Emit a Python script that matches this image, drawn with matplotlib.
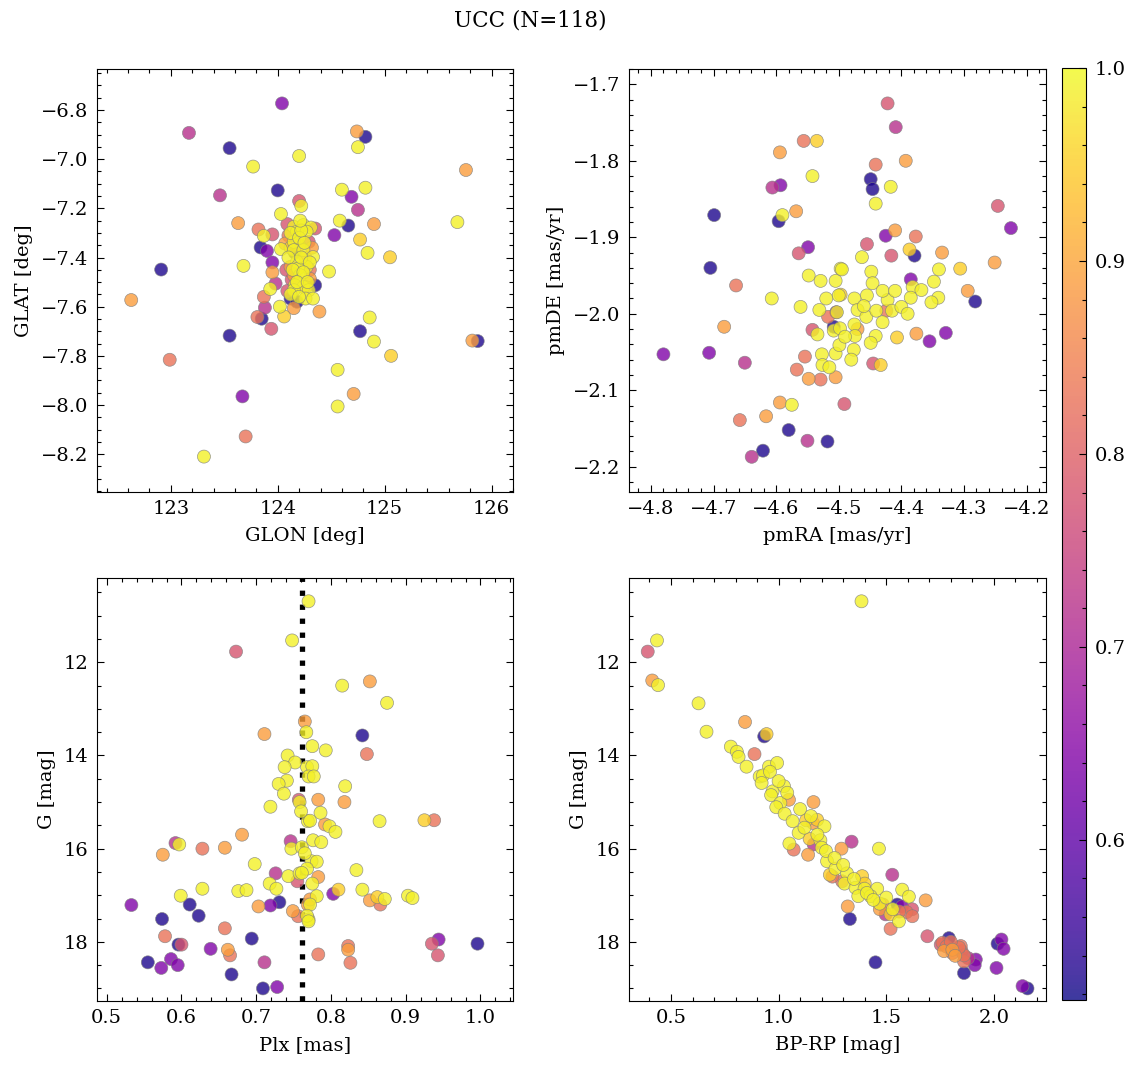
import matplotlib
matplotlib.use("Agg")
import matplotlib.pyplot as plt
from matplotlib.colors import Normalize
from matplotlib.ticker import MultipleLocator
import numpy as np

plt.rcParams["font.family"] = ["DejaVu Serif"]
plt.rcParams["font.size"] = 14

# membership probability levels
B, P, M, K, S, O, YO, Y = 0.53, 0.64, 0.72, 0.78, 0.83, 0.89, 0.95, 0.99

title = "UCC (N=118)"

# GLON, GLAT, prob
glon_glat = [
    (124.04, -6.773, P), (123.17, -6.893, M), (123.55, -6.955, B), (124.20, -6.987, Y),
    (123.77, -7.03, Y), (124.00, -7.127, B), (123.46, -7.147, M), (124.20, -7.17, K),
    (124.22, -7.19, Y), (124.03, -7.223, Y), (123.63, -7.26, O), (123.82, -7.286, S),
    (123.95, -7.306, K), (123.87, -7.312, Y), (123.84, -7.359, B), (123.90, -7.373, P),
    (124.03, -7.366, Y), (122.91, -7.449, B), (123.68, -7.434, Y), (123.95, -7.42, P),
    (123.95, -7.46, O), (123.98, -7.506, M), (123.93, -7.528, Y), (122.63, -7.573, O),
    (123.87, -7.56, S), (124.12, -7.567, B), (124.15, -7.606, O), (124.02, -7.60, Y),
    (124.06, -7.64, YO), (123.88, -7.604, M), (123.81, -7.642, S), (123.85, -7.649, B),
    (123.94, -7.69, K), (123.55, -7.718, B), (122.99, -7.816, S), (123.67, -7.965, P),
    (123.70, -8.128, S), (123.31, -8.21, Y), (124.74, -6.887, O), (124.82, -6.909, B),
    (124.75, -6.951, Y), (125.76, -7.044, O), (124.60, -7.124, Y), (124.82, -7.116, Y),
    (124.69, -7.153, P), (124.75, -7.206, M), (124.58, -7.25, Y), (124.66, -7.27, B),
    (124.90, -7.264, O), (125.68, -7.256, Y), (124.53, -7.309, P), (124.77, -7.327, YO),
    (124.84, -7.381, Y), (125.05, -7.399, YO), (124.48, -7.457, Y), (124.39, -7.62, O),
    (124.86, -7.644, Y), (124.77, -7.70, B), (124.90, -7.742, Y), (125.82, -7.738, O),
    (125.87, -7.74, B), (125.06, -7.80, YO), (124.56, -7.857, Y), (124.71, -7.955, O),
    (124.56, -8.006, Y),
    (124.09, -7.264, K), (124.15, -7.275, Y), (124.24, -7.268, Y), (124.31, -7.278, Y),
    (124.35, -7.282, K), (124.18, -7.295, Y), (124.27, -7.295, Y), (124.07, -7.343, O),
    (124.15, -7.336, Y), (124.15, -7.37, Y), (124.24, -7.37, Y), (124.29, -7.336, K),
    (124.33, -7.398, Y), (124.18, -7.418, Y), (124.27, -7.438, Y), (124.19, -7.445, Y),
    (124.12, -7.438, O), (124.15, -7.472, O), (124.21, -7.472, Y), (124.30, -7.486, O),
    (124.35, -7.513, B), (124.16, -7.513, Y), (124.24, -7.52, Y), (124.29, -7.533, Y),
    (124.09, -7.536, K), (124.15, -7.533, Y), (124.26, -7.567, Y), (124.33, -7.567, Y),
    (124.12, -7.30, Y), (124.20, -7.32, Y), (124.25, -7.34, Y), (124.10, -7.40, Y),
    (124.22, -7.40, Y), (124.30, -7.42, Y), (124.14, -7.45, Y), (124.24, -7.46, Y),
    (124.18, -7.50, Y), (124.28, -7.50, Y), (124.12, -7.55, Y), (124.20, -7.56, Y),
    (124.22, -7.29, Y), (124.10, -7.31, S), (124.26, -7.40, O), (124.13, -7.49, K),
    (124.30, -7.45, S), (124.20, -7.35, O), (124.08, -7.45, K), (124.32, -7.36, O),
    (124.18, -7.58, B), (124.16, -7.38, B), (124.12, -7.36, YO), (124.26, -7.52, YO),
    (124.21, -7.25, Y),
]

# pmRA, pmDE, prob
pm = [
    (-4.556, -1.774, S), (-4.535, -1.774, YO), (-4.594, -1.789, O), (-4.542, -1.820, Y),
    (-4.606, -1.835, M), (-4.593, -1.832, P), (-4.699, -1.871, B), (-4.596, -1.879, B),
    (-4.590, -1.871, Y), (-4.568, -1.866, O), (-4.549, -1.913, P), (-4.564, -1.921, K),
    (-4.705, -1.940, B), (-4.548, -1.950, Y), (-4.529, -1.957, Y), (-4.505, -1.957, Y),
    (-4.497, -1.941, Y), (-4.664, -1.963, S), (-4.607, -1.980, Y), (-4.561, -1.991, Y),
    (-4.531, -1.995, Y), (-4.517, -2.004, S), (-4.503, -1.998, Y), (-4.500, -1.976, Y),
    (-4.683, -2.017, O), (-4.542, -2.021, K), (-4.534, -2.027, Y), (-4.508, -2.017, B),
    (-4.508, -2.022, Y), (-4.780, -2.053, P), (-4.707, -2.051, P), (-4.650, -2.064, M),
    (-4.554, -2.056, S), (-4.527, -2.053, Y), (-4.505, -2.052, Y), (-4.567, -2.073, S),
    (-4.526, -2.067, Y), (-4.515, -2.070, Y), (-4.548, -2.085, O), (-4.529, -2.086, S),
    (-4.505, -2.083, O), (-4.594, -2.116, O), (-4.575, -2.119, Y), (-4.658, -2.139, S),
    (-4.616, -2.134, O), (-4.580, -2.152, B), (-4.550, -2.166, M), (-4.518, -2.167, B),
    (-4.639, -2.187, M), (-4.621, -2.179, B), (-4.491, -2.118, K), (-4.422, -1.725, K),
    (-4.409, -1.756, M), (-4.393, -1.800, O), (-4.441, -1.805, S), (-4.449, -1.824, B),
    (-4.446, -1.837, B), (-4.417, -1.834, Y), (-4.441, -1.856, Y), (-4.246, -1.859, K),
    (-4.225, -1.888, P), (-4.425, -1.898, P), (-4.410, -1.891, O), (-4.377, -1.899, S),
    (-4.455, -1.909, K), (-4.416, -1.924, K), (-4.387, -1.916, YO), (-4.379, -1.924, B),
    (-4.463, -1.926, Y), (-4.335, -1.920, O), (-4.251, -1.933, O), (-4.306, -1.941, YO),
    (-4.340, -1.942, Y), (-4.495, -1.942, Y), (-4.448, -1.945, Y), (-4.446, -1.960, Y),
    (-4.385, -1.955, P), (-4.348, -1.958, Y), (-4.382, -1.965, Y), (-4.368, -1.969, Y),
    (-4.294, -1.970, O), (-4.282, -1.984, B), (-4.497, -1.975, YO), (-4.455, -1.976, Y),
    (-4.475, -1.980, Y), (-4.385, -1.979, Y), (-4.341, -1.979, Y), (-4.352, -1.985, Y),
    (-4.422, -1.982, Y), (-4.470, -1.995, Y), (-4.456, -2.004, Y), (-4.440, -1.996, Y),
    (-4.424, -1.996, S), (-4.415, -1.996, Y), (-4.400, -1.991, Y), (-4.504, -1.998, P),
    (-4.430, -2.011, Y), (-4.475, -2.014, Y), (-4.498, -2.019, Y), (-4.474, -2.029, Y),
    (-4.441, -2.029, Y), (-4.449, -2.038, Y), (-4.407, -2.031, YO), (-4.376, -2.026, O),
    (-4.355, -2.036, P), (-4.329, -2.025, P), (-4.499, -2.041, Y), (-4.476, -2.047, Y),
    (-4.480, -2.060, Y), (-4.445, -2.065, K), (-4.433, -2.067, YO),
    (-4.46, -1.99, Y), (-4.43, -1.97, Y), (-4.49, -2.03, Y), (-4.41, -1.97, Y),
    (-4.52, -1.98, Y), (-4.47, -2.02, O), (-4.39, -2.00, Y),
]

# Plx, G, prob
plx_g = [
    (0.770, 10.69, Y), (0.748, 11.53, Y), (0.673, 11.77, K), (0.765, 13.27, O),
    (0.767, 13.50, Y), (0.711, 13.54, O), (0.742, 14.00, Y), (0.752, 14.15, Y),
    (0.738, 14.25, Y), (0.768, 14.25, Y), (0.741, 14.54, Y), (0.730, 14.61, Y),
    (0.737, 14.82, Y), (0.757, 14.95, K), (0.758, 15.00, Y), (0.719, 15.10, Y),
    (0.769, 15.41, Y), (0.681, 15.70, O), (0.592, 15.88, M), (0.597, 15.91, Y),
    (0.575, 16.13, O), (0.628, 16.00, S), (0.658, 15.98, O), (0.746, 15.84, M),
    (0.747, 16.00, Y), (0.761, 15.97, Y), (0.698, 16.33, Y), (0.726, 16.53, M),
    (0.718, 16.75, Y), (0.727, 16.86, Y), (0.743, 16.59, Y), (0.755, 16.70, K),
    (0.758, 16.53, Y), (0.599, 17.01, Y), (0.628, 16.86, Y), (0.676, 16.91, Y),
    (0.687, 16.89, Y), (0.533, 17.21, P), (0.611, 17.20, B), (0.623, 17.44, B),
    (0.574, 17.51, B), (0.703, 17.24, O), (0.719, 17.22, P), (0.731, 17.15, B),
    (0.749, 17.34, O), (0.756, 17.45, S), (0.769, 17.20, O), (0.770, 17.52, Y),
    (0.578, 17.88, S), (0.658, 17.71, S), (0.694, 17.93, B), (0.596, 18.06, B),
    (0.600, 18.06, K), (0.639, 18.15, P), (0.662, 18.17, O), (0.665, 18.29, S),
    (0.555, 18.44, B), (0.573, 18.56, P), (0.586, 18.37, P), (0.595, 18.50, P),
    (0.667, 18.70, B), (0.711, 18.44, M), (0.709, 19.00, B), (0.728, 18.97, P),
    (0.815, 12.50, Y), (0.852, 12.41, O), (0.875, 12.87, Y), (0.842, 13.57, B),
    (0.848, 13.97, S), (0.775, 13.80, Y), (0.793, 13.89, Y), (0.775, 14.23, Y),
    (0.770, 14.45, Y), (0.777, 14.45, Y), (0.819, 14.66, Y), (0.783, 14.95, O),
    (0.818, 15.00, O), (0.786, 15.23, Y), (0.772, 15.40, Y), (0.792, 15.48, O),
    (0.798, 15.52, Y), (0.806, 15.64, Y), (0.865, 15.41, Y), (0.925, 15.39, YO),
    (0.938, 15.39, S), (0.776, 15.82, Y), (0.787, 15.86, Y), (0.774, 16.27, Y),
    (0.781, 16.28, Y), (0.768, 16.43, Y), (0.761, 16.52, Y), (0.783, 16.61, O),
    (0.834, 16.46, Y), (0.803, 16.97, P), (0.810, 16.88, YO), (0.842, 16.88, Y),
    (0.781, 17.02, Y), (0.772, 17.09, O), (0.772, 17.20, Y), (0.852, 17.11, O),
    (0.866, 17.20, S), (0.862, 17.04, YO), (0.872, 17.08, Y), (0.903, 17.01, Y),
    (0.909, 17.06, Y), (0.768, 17.44, Y), (0.770, 17.56, Y), (0.783, 18.27, S),
    (0.823, 18.09, S), (0.823, 18.17, O), (0.826, 18.45, S), (0.935, 18.04, K),
    (0.944, 17.95, P), (0.943, 18.29, K), (0.996, 18.04, B),
    (0.765, 16.10, Y), (0.760, 15.20, Y), (0.775, 16.75, Y),
]
plx_median = 0.761

# BP-RP, G, prob
cmd = [
    (0.392, 11.77, K), (0.435, 11.53, Y), (0.413, 12.39, O), (0.440, 12.49, Y),
    (0.628, 12.88, Y), (0.665, 13.49, Y), (0.844, 13.28, O), (0.933, 13.59, B),
    (0.944, 13.54, YO), (0.778, 13.81, Y), (0.806, 13.92, Y), (0.814, 14.03, Y),
    (0.888, 13.97, S), (0.851, 14.24, Y), (0.955, 14.24, Y), (0.993, 14.16, Y),
    (0.912, 14.45, Y), (0.927, 14.43, Y), (0.921, 14.59, Y), (0.972, 14.77, Y),
    (0.965, 14.85, Y), (1.025, 14.66, Y), (1.048, 14.95, O), (1.162, 15.00, O),
    (1.008, 15.02, Y), (0.989, 15.11, Y), (1.028, 15.25, Y), (1.065, 15.41, Y),
    (1.128, 15.39, YO), (1.179, 15.38, YO), (1.213, 15.52, Y), (1.093, 15.66, Y),
    (1.144, 15.79, YO), (1.194, 15.82, Y), (1.163, 15.91, M), (1.200, 15.98, Y),
    (1.050, 15.89, Y), (1.070, 16.02, S), (1.137, 16.13, O), (1.225, 16.27, Y),
    (1.264, 16.43, Y), (1.238, 16.56, YO), (1.292, 16.00, O), (1.295, 16.70, S),
    (1.339, 15.85, M), (1.466, 16.00, Y), (1.318, 16.53, Y), (1.388, 16.59, YO),
    (1.306, 16.75, Y), (1.357, 16.84, Y), (1.399, 16.86, Y), (1.458, 16.86, Y),
    (1.528, 16.56, M), (1.370, 17.02, Y), (1.427, 17.02, Y), (1.469, 17.18, Y),
    (1.484, 17.20, S), (1.321, 17.24, O), (1.331, 17.51, B), (1.574, 16.88, Y),
    (1.605, 17.03, Y), (1.683, 17.11, O), (1.551, 17.20, B), (1.574, 17.24, P),
    (1.594, 17.36, S), (1.621, 17.45, S), (1.497, 17.41, M), (1.520, 17.41, YO),
    (1.559, 17.56, Y), (1.520, 17.72, S), (1.691, 17.88, K), (1.450, 18.44, B),
    (1.791, 17.92, B), (1.761, 18.02, S), (1.768, 18.20, O), (1.807, 18.24, S),
    (1.846, 18.09, S), (1.861, 18.42, S), (1.916, 18.38, P), (1.861, 18.67, B),
    (1.385, 10.69, Y), (1.911, 18.50, P), (2.012, 18.56, P), (2.017, 18.04, B),
    (2.035, 17.95, P), (2.045, 18.15, P), (2.133, 18.95, P), (2.156, 19.00, B),
    (1.861, 18.29, S), (1.838, 18.12, S), (1.807, 18.17, O), (1.753, 18.06, K),
    (0.96, 14.35, Y), (1.00, 14.55, Y), (1.04, 14.80, Y), (1.10, 15.15, Y),
    (1.15, 15.30, Y), (1.12, 15.55, Y), (1.18, 15.70, Y), (1.22, 16.05, Y),
    (1.26, 16.20, Y), (1.30, 16.35, Y), (1.35, 16.65, Y), (1.41, 16.95, Y),
    (1.44, 17.10, Y), (1.50, 17.05, Y), (1.53, 17.30, Y), (1.40, 16.75, YO),
    (1.47, 17.30, O), (1.56, 17.35, S), (1.62, 17.30, K), (1.78, 18.10, S),
    (1.82, 18.30, O), (1.85, 18.20, K), (1.80, 18.00, S), (1.88, 18.35, M),
    (1.16, 15.45, O), (1.25, 16.60, S),
]

norm = Normalize(vmin=0.517, vmax=1.0)

W, H = 1136, 1068
fig = plt.figure(figsize=(W / 100, H / 100), dpi=100)


def box(x0, y0, x1, y1):
    return [x0 / W, 1 - y1 / H, (x1 - x0) / W, (y1 - y0) / H]


def panel(rect, data, xlabel, ylabel, xlim, ylim, xstep=None):
    ax = fig.add_axes(rect)
    arr = np.array(sorted(data, key=lambda r: r[2]))
    sc = ax.scatter(arr[:, 0], arr[:, 1], c=arr[:, 2], cmap="plasma", norm=norm,
                    s=88, alpha=0.8, edgecolor="grey", linewidth=0.5, zorder=3)
    ax.set_xlim(*xlim)
    ax.set_ylim(*ylim)
    if xstep:
        ax.xaxis.set_major_locator(MultipleLocator(xstep))
    ax.set_xlabel(xlabel, labelpad=6)
    ax.set_ylabel(ylabel, labelpad=6)
    ax.minorticks_on()
    ax.tick_params(which="both", direction="in", top=True, right=True, width=0.8)
    ax.tick_params(which="major", length=5, pad=6)
    ax.tick_params(which="minor", length=3)
    return ax, sc


panel(box(97, 69, 513, 492), glon_glat, "GLON [deg]", "GLAT [deg]",
      (122.31, 126.20), (-8.354, -6.633), xstep=1)
panel(box(629, 69, 1046, 492), pm, "pmRA [mas/yr]", "pmDE [mas/yr]",
      (-4.835, -4.169), (-2.233, -1.680))
ax3, _ = panel(box(97, 578, 513, 1001), plx_g, "Plx [mas]", "G [mag]",
               (0.487, 1.0435), (19.27, 10.19))
ax3.axvline(plx_median, color="k", ls=":", lw=3.8, zorder=2)
_, sc = panel(box(629, 578, 1046, 1001), cmd, "BP-RP [mag]", "G [mag]",
              (0.305, 2.242), (19.27, 10.19), xstep=0.5)

cax = fig.add_axes(box(1062, 68, 1086, 1000))
cb = fig.colorbar(sc, cax=cax)
cb.set_ticks([0.6, 0.7, 0.8, 0.9, 1.0])
cb.minorticks_on()
cb.ax.tick_params(which="both", direction="in", width=0.8)
cb.ax.tick_params(which="major", length=5, pad=6)
cb.ax.tick_params(which="minor", length=3)

fig.text(530 / W, 1 - 20 / H, title, ha="center", va="center", fontsize=15.5)

fig.savefig("out.png", dpi=100)
